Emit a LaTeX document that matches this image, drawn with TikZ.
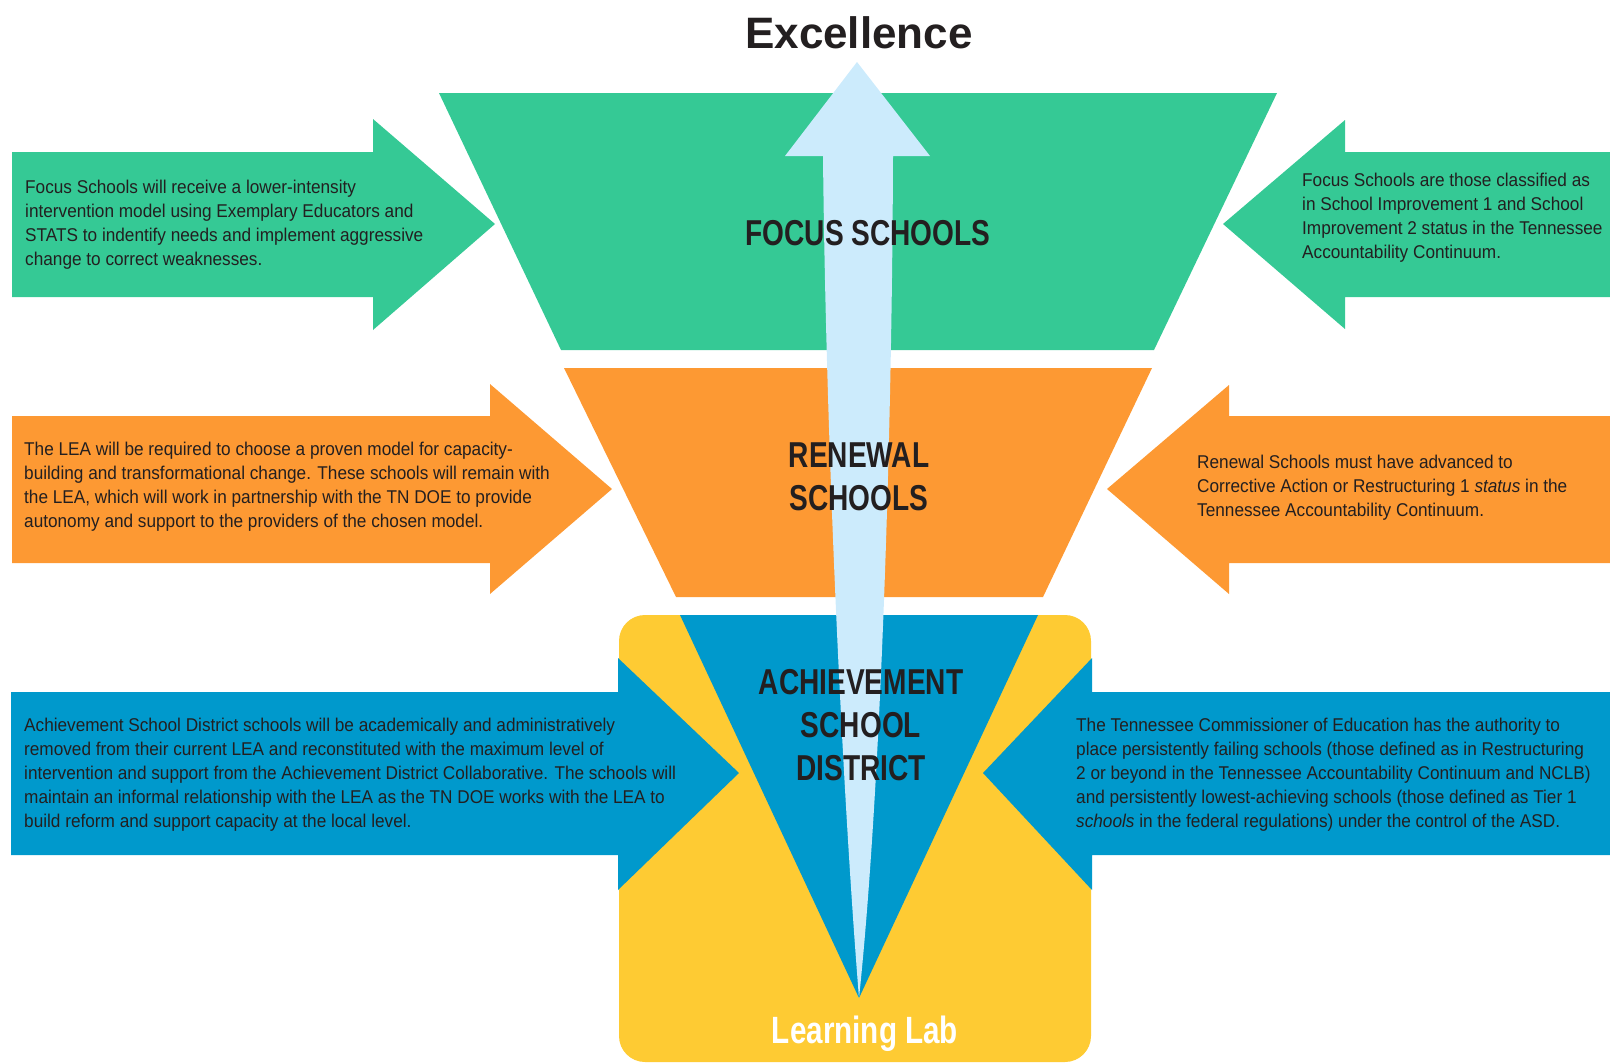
\documentclass[tikz,border=0pt]{standalone}
\usepackage{fontspec}
\setmainfont{Liberation Sans}
\newfontfamily\bodyfont{Liberation Sans}[FakeStretch=0.93]
\newfontfamily\headfont{Liberation Sans}[FakeStretch=0.78]
\definecolor{fgreen}{HTML}{35C995}
\definecolor{forange}{HTML}{FD9933}
\definecolor{fblue}{HTML}{0099CC}
\definecolor{fyellow}{HTML}{FECB33}
\definecolor{flight}{HTML}{CCEBFC}
\definecolor{ink}{HTML}{231F20}
\begin{document}
\begin{tikzpicture}[x=1pt,y=-1pt,
  body/.style={inner sep=0pt, align=left, anchor=west, text=ink, font=\bodyfont\fontsize{18.5}{24}\selectfont},
  head/.style={inner sep=0pt, align=center, text=ink, font=\headfont\bfseries\fontsize{36}{43}\selectfont},
]
\useasboundingbox (0,0) rectangle (1610,1063);
% green level
\fill[fgreen] (439,93) -- (1277,93) -- (1154,350) -- (561,350) -- cycle;
\fill[fgreen] (12,152) -- (373,152) -- (373,119) -- (495,224) -- (373,330) -- (373,297) -- (12,297) -- cycle;
\fill[fgreen] (1610,152) -- (1345,152) -- (1345,120) -- (1223,224) -- (1345,329) -- (1345,297) -- (1610,297) -- cycle;
% orange level
\fill[forange] (564,368) -- (1152,368) -- (1043,597) -- (676,597) -- cycle;
\fill[forange] (12,416) -- (490,416) -- (490,384) -- (612,489) -- (490,594) -- (490,563) -- (12,563) -- cycle;
\fill[forange] (1610,416) -- (1229,416) -- (1229,385) -- (1107,489) -- (1229,594) -- (1229,563) -- (1610,563) -- cycle;
% yellow learning lab and blue level
\fill[fyellow, rounded corners=26pt] (619,615) rectangle (1091,1062);
\fill[fblue] (680,615) -- (1038,615) -- (859,998) -- cycle;
\fill[fblue] (11,692) -- (618,692) -- (618,658) -- (739,773) -- (618,890) -- (618,855) -- (11,855) -- cycle;
\fill[fblue] (1610,692) -- (1092,692) -- (1092,658) -- (983,773) -- (1092,890) -- (1092,855) -- (1610,855) -- cycle;
% light blue arrow
\fill[flight] (859,998) .. controls (843,800) and (826,450) .. (823,156) -- (785,156) -- (857,62) -- (930,156) -- (893,156) .. controls (892,450) and (880,800) .. (859,998) -- cycle;
% titles
\node[inner sep=0pt, anchor=base, text=ink, font=\bfseries\fontsize{44}{50}\selectfont] (excel) at (859,48) {Excellence};
\node[head] (focus) at (868,233) {FOCUS SCHOOLS};
\node[head] (renewal) at (859,477) {RENEWAL\\SCHOOLS};
\node[head] (asd) at (861,725) {ACHIEVEMENT\\SCHOOL\\DISTRICT};
\node[inner sep=0pt, anchor=base, text=white, font=\headfont\bfseries\fontsize{38}{44}\selectfont] (lab) at (865,1043) {Learning Lab};
% descriptions
\node[body] (gl) at (25,225) {Focus Schools will receive a lower-intensity\\intervention model using Exemplary Educators and\\STATS to indentify needs and implement aggressive\\change to correct weaknesses.};
\node[body] (gr) at (1302,218) {Focus Schools are those classified as\\in School Improvement 1 and School\\Improvement 2 status in the Tennessee\\Accountability Continuum.};
\node[body] (ol) at (24,487) {The LEA will be required to choose a proven model for capacity-\\building and transformational change. These schools will remain with\\the LEA, which will work in partnership with the TN DOE to provide\\autonomy and support to the providers of the chosen model.};
\node[body] (or) at (1197,488) {Renewal Schools must have advanced to\\Corrective Action or Restructuring 1 {\itshape status} in the\\Tennessee Accountability Continuum.};
\node[body] (bl) at (24,775) {Achievement School District schools will be academically and administratively\\removed from their current LEA and reconstituted with the maximum level of\\intervention and support from the Achievement District Collaborative. The schools will\\maintain an informal relationship with the LEA as the TN DOE works with the LEA to\\build reform and support capacity at the local level.};
\node[body] (br) at (1076,775) {The Tennessee Commissioner of Education has the authority to\\place persistently failing schools (those defined as in Restructuring\\2 or beyond in the Tennessee Accountability Continuum and NCLB)\\and persistently lowest-achieving schools (those defined as Tier 1\\{\itshape schools} in the federal regulations) under the control of the ASD.};
\end{tikzpicture}
\end{document}
